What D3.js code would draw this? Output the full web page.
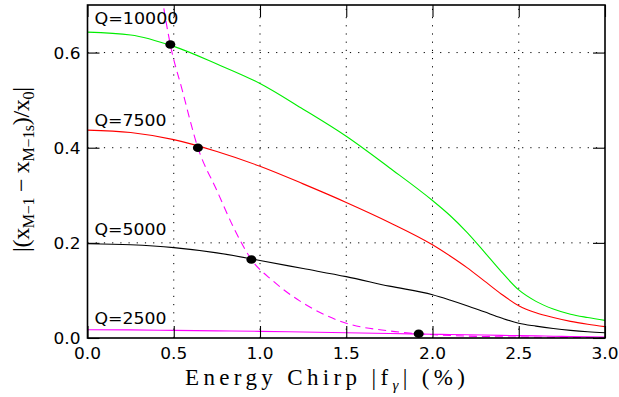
<!DOCTYPE html>
<html>
<head>
<meta charset="utf-8">
<script src="https://cdn.jsdelivr.net/npm/d3@7"></script>
<style>
  body { margin: 0; background: #fff; }
  svg { display: block; }
  .tick-label { font-family: "DejaVu Sans", sans-serif; font-size: 15px; }
  .q-label { font-family: "DejaVu Sans", sans-serif; font-size: 15px; }
  .title { font-family: "Liberation Serif", serif; }
</style>
</head>
<body>
<div id="chart"></div>
<script>
const width = 619;
const height = 397;
const margin = { left: 87.5, right: 14, top: 5, bottom: 59 };

// shared x grid for the four Q curves
const chirp = [0, 0.25, 0.5, 0.75, 1.0, 1.25, 1.5, 1.75, 2.0, 2.1, 2.2, 2.3, 2.4, 2.5, 2.6, 2.7, 2.8, 2.9, 3.0];
const q10000 = [0.643, 0.637, 0.613, 0.576, 0.535, 0.481, 0.424, 0.358, 0.289, 0.258, 0.222, 0.181, 0.139, 0.101, 0.077, 0.061, 0.05, 0.043, 0.037];
const q7500 = [0.437, 0.432, 0.417, 0.392, 0.361, 0.324, 0.285, 0.243, 0.196, 0.173, 0.148, 0.12, 0.092, 0.068, 0.053, 0.043, 0.035, 0.029, 0.024];
const q5000 = [0.198, 0.196, 0.19, 0.179, 0.163, 0.146, 0.129, 0.109, 0.091, 0.08, 0.068, 0.055, 0.042, 0.031, 0.025, 0.02, 0.016, 0.013, 0.011];
const q2500 = [0.0175, 0.017, 0.016, 0.015, 0.014, 0.0125, 0.011, 0.0095, 0.008, 0.0074, 0.0068, 0.0062, 0.0056, 0.005, 0.0044, 0.0038, 0.0032, 0.0026, 0.002];

// dashed locus through the marked points
const locusX = [0.43, 0.48, 0.55, 0.64, 0.75, 0.85, 0.95, 1.075, 1.23, 1.5, 1.75, 1.92, 2.2, 2.5, 3.0];
const locusY = [0.72, 0.617, 0.52, 0.40, 0.31, 0.23, 0.165, 0.12, 0.078, 0.031, 0.015, 0.009, 0.004, 0.002, 0.001];

const dotX = [0.48, 0.64, 0.95, 1.92];
const dotY = [0.617, 0.40, 0.165, 0.009];

const xTicks = [0, 0.5, 1.0, 1.5, 2.0, 2.5, 3.0];
const yTicks = [0, 0.2, 0.4, 0.6];

const series = [
  { name: "Q=10000", values: q10000, color: "#00ee00", labelY: 0.66 },
  { name: "Q=7500", values: q7500, color: "#ff0000", labelY: 0.445 },
  { name: "Q=5000", values: q5000, color: "#000000", labelY: 0.216 },
  { name: "Q=2500", values: q2500, color: "#ff00ff", labelY: 0.03 }
];

const svg = d3.select("#chart").append("svg")
  .attr("width", width).attr("height", height);

const x = d3.scaleLinear().domain([0, 3]).range([margin.left, width - margin.right]);
const y = d3.scaleLinear().domain([0, 0.7]).range([height - margin.bottom, margin.top]);

svg.append("defs").append("clipPath").attr("id", "plot-clip")
  .append("rect")
  .attr("x", x(0)).attr("y", y(0.7))
  .attr("width", x(3) - x(0)).attr("height", y(0) - y(0.7));

// dotted grid
const grid = svg.append("g").attr("stroke", "#000").attr("stroke-width", 1)
  .attr("stroke-dasharray", "1.2,7");
grid.selectAll(".vg").data(xTicks.slice(1, -1)).join("line")
  .attr("x1", d => x(d)).attr("x2", d => x(d))
  .attr("y1", y(0)).attr("y2", y(0.7));
grid.selectAll(".hg").data(yTicks.slice(1)).join("line")
  .attr("y1", d => y(d)).attr("y2", d => y(d))
  .attr("x1", x(0)).attr("x2", x(3));

// curves
const plot = svg.append("g").attr("clip-path", "url(#plot-clip)");
const line = d3.line()
  .x(d => x(d[0]))
  .y(d => y(d[1]))
  .curve(d3.curveMonotoneX);

plot.append("path")
  .datum(locusX.map((v, i) => [v, locusY[i]]))
  .attr("fill", "none")
  .attr("stroke", "#ff00ff")
  .attr("stroke-width", 1.1)
  .attr("stroke-dasharray", "8,5")
  .attr("d", line);

series.forEach(s => {
  plot.append("path")
    .datum(chirp.map((v, i) => [v, s.values[i]]))
    .attr("fill", "none")
    .attr("stroke", s.color)
    .attr("stroke-width", 1.1)
    .attr("d", line);
});

// black markers
plot.selectAll(".dot").data(dotX.map((v, i) => [v, dotY[i]])).join("ellipse")
  .attr("cx", d => x(d[0])).attr("cy", d => y(d[1]))
  .attr("rx", 5).attr("ry", 4.3)
  .attr("fill", "#000");

// Q labels
svg.selectAll(".q-label").data(series).join("text")
  .attr("class", "q-label")
  .attr("x", x(0.04))
  .attr("y", d => y(d.labelY))
  .attr("textLength", d => d.name.length * 12)
  .attr("lengthAdjust", "spacingAndGlyphs")
  .text(d => d.name);

// axes: main + mirrored sides with inward ticks
function inwardAxis(axisFn, scale, major, minor, pos) {
  const g = svg.append("g").attr("transform", pos);
  g.call(axisFn(scale).tickValues(minor).tickSize(6).tickFormat(""));
  g.call(axisFn(scale).tickValues(major).tickSize(12).tickFormat(""));
  g.selectAll("path.domain").remove();
  g.selectAll("line").attr("stroke", "#000").attr("stroke-width", 1.1);
  return g;
}
const xMinor = d3.range(0, 31).map(i => i / 10);
const yMinor = d3.range(0, 18).map(i => i * 0.04).filter(v => v <= 0.7);

inwardAxis(d3.axisTop, x, xTicks, xMinor, `translate(0,${y(0)})`);
inwardAxis(d3.axisBottom, x, xTicks, xMinor, `translate(0,${y(0.7)})`);
inwardAxis(d3.axisRight, y, yTicks, yMinor, `translate(${x(0)},0)`);
inwardAxis(d3.axisLeft, y, yTicks, yMinor, `translate(${x(3)},0)`);

// frame
svg.append("rect")
  .attr("x", x(0)).attr("y", y(0.7))
  .attr("width", x(3) - x(0)).attr("height", y(0) - y(0.7))
  .attr("fill", "none").attr("stroke", "#000").attr("stroke-width", 1.6);

// tick labels
svg.selectAll(".xl").data(xTicks).join("text")
  .attr("class", "tick-label")
  .attr("x", d => x(d)).attr("y", y(0) + 21)
  .attr("text-anchor", "middle")
  .attr("textLength", 27).attr("lengthAdjust", "spacingAndGlyphs")
  .text(d => d.toFixed(1));
svg.selectAll(".yl").data(yTicks).join("text")
  .attr("class", "tick-label")
  .attr("x", x(0) - 34).attr("y", d => y(d) + 6)
  .attr("textLength", 27).attr("lengthAdjust", "spacingAndGlyphs")
  .text(d => d.toFixed(1));

// x title
const xt = svg.append("text").attr("class", "title")
  .attr("x", 185).attr("y", 385)
  .attr("font-size", 23)
  .attr("textLength", 280).attr("lengthAdjust", "spacing");
xt.append("tspan").text("Energy Chirp |f");
xt.append("tspan").attr("dy", 5).attr("font-size", 15).attr("font-style", "italic").text("γ");
xt.append("tspan").attr("dy", -5).text("| (%)");

// y title
const yt = svg.append("text").attr("class", "title")
  .attr("font-size", 24)
  .attr("transform", "translate(29,252) rotate(-90)")
  .attr("textLength", 165).attr("lengthAdjust", "spacing");
yt.append("tspan").text("|(x");
yt.append("tspan").attr("dy", 5).attr("font-size", 16).text("M−1");
yt.append("tspan").attr("dy", -5).text(" − x");
yt.append("tspan").attr("dy", 5).attr("font-size", 16).text("M−1s");
yt.append("tspan").attr("dy", -5).text(")/x");
yt.append("tspan").attr("dy", 5).attr("font-size", 16).text("0");
yt.append("tspan").attr("dy", -5).text("|");
</script>
</body>
</html>
